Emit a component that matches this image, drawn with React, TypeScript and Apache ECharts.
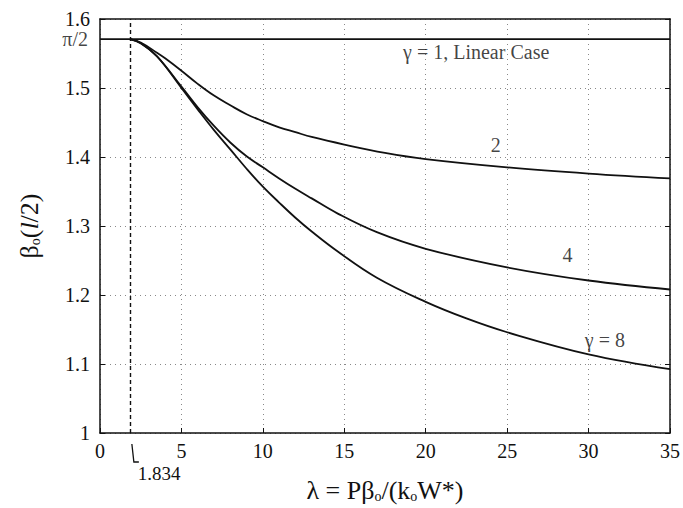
import React, { useEffect, useRef } from "react";
import * as echarts from "echarts";

const HALF_PI = Math.PI / 2;
const LAMBDA_CR = 1.834;

const xTicks = [0, 5, 10, 15, 20, 25, 30, 35];
const yTicks = [1, 1.1, 1.2, 1.3, 1.4, 1.5, 1.6];

const gamma1X = [0, 35];
const gamma1Y = [HALF_PI, HALF_PI];

const gamma2X = [1.834, 2.5, 3.5, 4, 5, 6, 7, 8, 9, 10, 11, 12, 13, 15, 17.5, 20, 25, 30, 35];
const gamma2Y = [1.5708, 1.566, 1.551, 1.543, 1.525, 1.506, 1.489, 1.475, 1.462, 1.452, 1.443, 1.436, 1.429, 1.418, 1.406, 1.397, 1.385, 1.376, 1.369];

const gamma4X = [1.834, 2.5, 3.5, 5, 6, 7, 8, 9, 10, 11, 12, 13, 14.6, 17, 20, 25, 30, 35];
const gamma4Y = [1.5708, 1.565, 1.546, 1.502, 1.472, 1.445, 1.421, 1.401, 1.385, 1.369, 1.354, 1.34, 1.318, 1.291, 1.267, 1.24, 1.221, 1.208];

const gamma8X = [1.834, 2.5, 3.5, 5, 6, 7, 8, 9, 10, 11, 12, 13, 14.6, 17, 20, 22.5, 25, 30, 35];
const gamma8Y = [1.5708, 1.565, 1.546, 1.5, 1.469, 1.439, 1.411, 1.383, 1.357, 1.334, 1.312, 1.292, 1.263, 1.225, 1.19, 1.166, 1.146, 1.114, 1.0925];

const curveLabels = ["γ = 1, Linear Case", "2", "4", "γ = 8"];
const curveLabelX = [23.1, 24.3, 28.7, 31.0];
const curveLabelY = [1.5525, 1.4167, 1.2576, 1.135];

const FONT = '"Liberation Serif", "Times New Roman", serif';
const INK = "#111";

const pairs = (xs: number[], ys: number[]) => xs.map((x, i) => [x, ys[i]]);

export default function App() {
  const ref = useRef<HTMLDivElement>(null);

  useEffect(() => {
    if (!ref.current) return;
    const chart = echarts.init(ref.current, undefined, { renderer: "svg" });

    const lineSeries = (name: string, xs: number[], ys: number[], extra: any = {}) => ({
      type: "line",
      name,
      data: pairs(xs, ys),
      showSymbol: false,
      smooth: 0.4,
      lineStyle: { color: INK, width: 1.8 },
      z: 5,
      ...extra,
    });

    const fmtY = (v: number) => String(Math.round(v * 10) / 10);

    chart.setOption({
      animation: false,
      backgroundColor: "#fff",
      textStyle: { fontFamily: FONT, color: INK },
      grid: { left: 100, right: 7, top: 19, bottom: 72, containLabel: false },
      xAxis: [
        {
          type: "value",
          min: xTicks[0],
          max: xTicks[xTicks.length - 1],
          interval: 5,
          axisLine: { show: true, onZero: false, lineStyle: { color: INK, width: 1.5 } },
          axisTick: { show: true, inside: true, length: 5, lineStyle: { color: INK } },
          axisLabel: { color: INK, fontFamily: FONT, fontSize: 20, margin: 8 },
          splitLine: { show: true, lineStyle: { color: "#888", type: [1, 4], width: 1 } },
          name: "{t|λ = Pβ}{s|o}{t|/(k}{s|o}{t|W*)}",
          nameLocation: "middle",
          nameGap: 44,
          nameTextStyle: {
            rich: {
              t: { fontFamily: FONT, fontSize: 26, color: INK },
              s: { fontFamily: FONT, fontSize: 14, color: INK, verticalAlign: "bottom", padding: [10, 0, 0, 0] },
            },
          },
        },
        {
          type: "value",
          position: "top",
          min: xTicks[0],
          max: xTicks[xTicks.length - 1],
          interval: 5,
          axisLine: { show: true, onZero: false, lineStyle: { color: INK, width: 1.5 } },
          axisTick: { show: false },
          axisLabel: { show: false },
          splitLine: { show: false },
        },
      ],
      yAxis: [
        {
          type: "value",
          min: yTicks[0],
          max: yTicks[yTicks.length - 1],
          interval: 0.1,
          axisLine: { show: true, onZero: false, lineStyle: { color: INK, width: 1.5 } },
          axisTick: { show: true, inside: true, length: 5, lineStyle: { color: INK } },
          axisLabel: { color: INK, fontFamily: FONT, fontSize: 20, margin: 10, formatter: fmtY },
          splitLine: { show: true, lineStyle: { color: "#888", type: [1, 4], width: 1 } },
          name: "{t|β}{s|o}{t|(}{i|l}{t|/2)}",
          nameLocation: "middle",
          nameRotate: 90,
          nameGap: 58,
          nameTextStyle: {
            rich: {
              t: { fontFamily: FONT, fontSize: 26, color: INK },
              i: { fontFamily: FONT, fontSize: 26, color: INK, fontStyle: "italic" },
              s: { fontFamily: FONT, fontSize: 14, color: INK, verticalAlign: "bottom", padding: [10, 0, 0, 0] },
            },
          },
        },
        {
          type: "value",
          position: "right",
          min: yTicks[0],
          max: yTicks[yTicks.length - 1],
          interval: 0.1,
          axisLine: { show: true, onZero: false, lineStyle: { color: INK, width: 1.5 } },
          axisTick: { show: true, inside: true, length: 5, lineStyle: { color: INK } },
          axisLabel: { show: false },
          splitLine: { show: false },
        },
      ],
      series: [
        lineSeries("γ = 1", gamma1X, gamma1Y, {
          smooth: false,
          markLine: {
            silent: true,
            symbol: ["none", "none"],
            label: { show: false },
            lineStyle: { color: INK, type: [4, 3], width: 1.4 },
            data: [{ xAxis: LAMBDA_CR }],
          },
        }),
        lineSeries("γ = 2", gamma2X, gamma2Y),
        lineSeries("γ = 4", gamma4X, gamma4Y),
        lineSeries("γ = 8", gamma8X, gamma8Y),
        {
          type: "scatter",
          name: "labels",
          symbolSize: 0,
          clip: false,
          silent: true,
          data: curveLabels.map((n, i) => ({ name: n, value: [curveLabelX[i], curveLabelY[i]] })),
          label: {
            show: true,
            position: "inside",
            formatter: (p: any) => p.name,
            fontFamily: FONT,
            fontSize: 20,
            color: INK,
          },
        },
        {
          type: "scatter",
          name: "pi2",
          symbolSize: 0,
          clip: false,
          silent: true,
          data: [{ name: "π/2", value: [0, HALF_PI] }],
          label: {
            show: true,
            position: "left",
            distance: 12,
            formatter: "π/2",
            fontFamily: FONT,
            fontSize: 20,
            color: INK,
          },
        },
        {
          type: "custom",
          name: "lambdaCr",
          silent: true,
          clip: false,
          data: [[LAMBDA_CR, yTicks[0]]],
          renderItem: (params: any, api: any) => {
            const p = api.coord([api.value(0), api.value(1)]);
            return {
              type: "group",
              children: [
                {
                  type: "polyline",
                  shape: { points: [[p[0] + 2, p[1] + 11], [p[0] + 4, p[1] + 29], [p[0] + 9, p[1] + 29]] },
                  style: { stroke: INK, lineWidth: 1.3, fill: "none" },
                },
                {
                  type: "text",
                  x: p[0] + 8,
                  y: p[1] + 40,
                  style: {
                    text: String(LAMBDA_CR),
                    fontFamily: FONT,
                    fontSize: 19,
                    fill: INK,
                    textAlign: "left",
                    textVerticalAlign: "middle",
                  },
                },
              ],
            };
          },
        },
      ],
    });

    return () => chart.dispose();
  }, []);

  return (
    <div
      ref={ref}
      style={{ position: "fixed", left: 0, top: 0, width: 683, height: 508, background: "#fff" }}
    />
  );
}
